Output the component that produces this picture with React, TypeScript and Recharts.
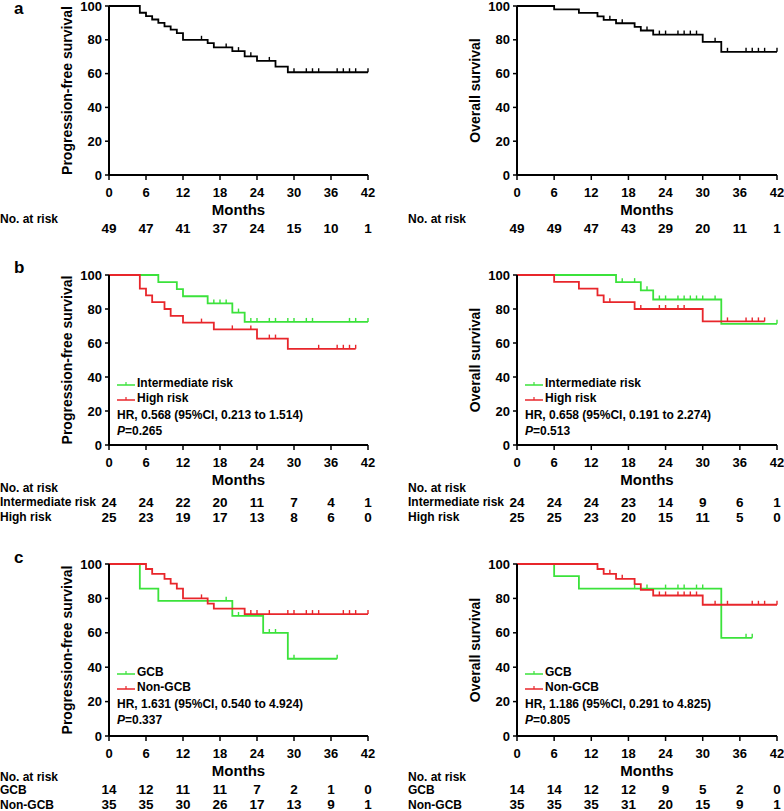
import React from 'react';
import { ComposedChart, Line, Scatter, XAxis, YAxis, Legend } from 'recharts';

const FONT = '"Liberation Sans", Arial, Helvetica, sans-serif';
const GREEN = '#3BE23B';
const RED = '#E8262B';
const BLACK = '#000000';

const monthTicks = [0, 6, 12, 18, 24, 30, 36, 42];
const pctTicks = [0, 20, 40, 60, 80, 100];

// a: whole cohort
const pfsAllTimes = [0, 5, 6, 7, 8, 9, 10, 11, 12, 16, 17, 20, 22, 24, 27, 29, 42];
const pfsAllSurv = [100, 96, 94, 92, 90, 88, 86, 84, 80, 78, 75.5, 73.3, 70.2, 67.5, 64.1, 60.8, 60.8];
const pfsAllCensor = [15, 19, 21, 23, 26, 30, 32, 33, 34, 37, 38, 39, 40, 42];
const pfsAllRisk = [49, 47, 41, 37, 24, 15, 10, 1];

const osAllTimes = [0, 6, 10, 13, 14, 16, 19, 20, 22, 30, 33, 42];
const osAllSurv = [100, 98, 95.9, 93.9, 91.8, 89.8, 87.6, 85.5, 83.1, 78.8, 72.9, 72.9];
const osAllCensor = [15, 17, 21, 23, 24, 26, 27, 28, 29, 32, 34, 37, 38, 39, 40, 42];
const osAllRisk = [49, 49, 47, 43, 29, 20, 11, 1];

// b: IPI risk groups
const pfsIntTimes = [0, 8, 11, 12, 16, 20, 22, 42];
const pfsIntSurv = [100, 95.8, 91.7, 87.5, 83.3, 77.9, 72.4, 72.4];
const pfsIntCensor = [17, 18, 19, 21, 23, 24, 26, 27, 29, 30, 32, 33, 39, 40, 42];
const pfsHighTimes = [0, 5, 6, 7, 9, 10, 12, 17, 24, 29, 40];
const pfsHighSurv = [100, 92, 88, 84, 80, 76, 72, 68, 62.6, 56.6, 56.6];
const pfsHighCensor = [15, 20, 23, 26, 27, 34, 37, 38, 39, 40];
const pfsIntRisk = [24, 24, 22, 20, 11, 7, 4, 1];
const pfsHighRisk = [25, 23, 19, 17, 13, 8, 6, 0];

const osIntTimes = [0, 16, 20, 22, 33, 42];
const osIntSurv = [100, 95.8, 91, 85.6, 71.3, 71.3];
const osIntCensor = [17, 19, 21, 23, 24, 26, 27, 28, 29, 30, 32, 42];
const osHighTimes = [0, 6, 10, 13, 14, 19, 30, 40];
const osHighSurv = [100, 96, 92, 88, 84, 80, 72.7, 72.7];
const osHighCensor = [15, 20, 23, 24, 26, 27, 34, 37, 38, 39, 40];
const osIntRisk = [24, 24, 24, 23, 14, 9, 6, 1];
const osHighRisk = [25, 25, 23, 20, 15, 11, 5, 0];

// c: cell of origin
const pfsGcbTimes = [0, 5, 8, 20, 25, 29, 37];
const pfsGcbSurv = [100, 85.7, 78.6, 69.8, 59.9, 44.9, 44.9];
const pfsGcbCensor = [19, 21, 26, 27, 30, 37];
const pfsNonTimes = [0, 6, 7, 9, 10, 11, 12, 16, 17, 22, 42];
const pfsNonSurv = [100, 97.1, 94.3, 91.4, 88.6, 85.7, 80, 77, 74, 70.9, 70.9];
const pfsNonCensor = [15, 23, 24, 26, 29, 30, 32, 33, 34, 38, 39, 40, 42];
const pfsGcbRisk = [14, 12, 11, 11, 7, 2, 1, 0];
const pfsNonRisk = [35, 35, 30, 26, 17, 13, 9, 1];

const osGcbTimes = [0, 6, 10, 33, 38];
const osGcbSurv = [100, 92.9, 85.7, 57.1, 57.1];
const osGcbCensor = [19, 21, 24, 26, 27, 29, 30, 37, 38];
const osNonTimes = [0, 13, 14, 16, 19, 20, 22, 30, 42];
const osNonSurv = [100, 97.1, 94.3, 91.4, 88.3, 85, 81.7, 76.3, 76.3];
const osNonCensor = [15, 17, 23, 24, 26, 27, 28, 29, 32, 34, 38, 39, 40, 42];
const osGcbRisk = [14, 14, 12, 12, 9, 5, 2, 0];
const osNonRisk = [35, 35, 35, 31, 20, 15, 9, 1];

type Series = { name: string; color: string; times: number[]; surv: number[]; censor: number[] };
type RiskRow = { label: string; values: number[]; dy: number };

const steps = (times: number[], surv: number[]) => times.map((t, i) => ({ t, s: surv[i] }));

// censored patients sit on the curve level at their time
const censorMarks = (censor: number[], times: number[], surv: number[]) =>
  censor.map((c) => {
    let k = 0;
    times.forEach((t, i) => {
      if (t <= c) k = i;
    });
    return { t: c, s: surv[k] };
  });

const txt = { fontFamily: FONT, fontWeight: 700, fill: BLACK };

interface PanelProps {
  left: number;
  top: number;
  height: number;
  marginTop: number;
  plotHeight: number;
  right: boolean;
  yLabel: string;
  series: Series[];
  risk: RiskRow[];
  atRiskDy: number;
  stats?: [string, string];
}

const KMPanel: React.FC<PanelProps> = ({ left, top, height, marginTop, plotHeight, right, yLabel, series, risk, atRiskDy, stats }) => {
  const width = 392;
  const yw = 60;
  const plotLeft = right ? 125 : 109;
  const margin = { top: marginTop, right: right ? 7 : 24, left: plotLeft - yw, bottom: 0 };
  const axisY = marginTop + plotHeight;
  const xAxisH = height - axisY;

  const renderTick = (p: any) => {
    const { x, payload } = p;
    const idx = monthTicks.indexOf(payload.value);
    return (
      <g>
        <text x={x} y={axisY + 17} textAnchor="middle" dominantBaseline="central" fontSize={13} style={txt}>
          {payload.value}
        </text>
        {risk.map((row) => (
          <text key={row.label + row.dy} x={x} y={axisY + row.dy} textAnchor="middle" dominantBaseline="central" fontSize={13.5} style={txt}>
            {row.values[idx]}
          </text>
        ))}
        {idx === 0 && (
          <g>
            <text x={x - 109} y={axisY + atRiskDy} dominantBaseline="central" fontSize={12} style={txt}>
              No. at risk
            </text>
            {risk.map((row) => (
              <text key={'l' + row.dy} x={x - 109} y={axisY + row.dy} dominantBaseline="central" fontSize={12} style={txt}>
                {row.label}
              </text>
            ))}
          </g>
        )}
      </g>
    );
  };

  const legendContent = () => (
    <div style={{ fontFamily: FONT, fontWeight: 700, fontSize: 12, color: BLACK, whiteSpace: 'nowrap' }}>
      {series.map((s) => (
        <div key={s.name} style={{ height: 15, lineHeight: '15px', display: 'flex', alignItems: 'center' }}>
          <svg width={18} height={10} style={{ marginRight: 2 }}>
            <line x1={0} x2={18} y1={6} y2={6} stroke={s.color} strokeWidth={1.5} />
            <line x1={9} x2={9} y1={6} y2={3} stroke={s.color} strokeWidth={1.2} />
          </svg>
          {s.name}
        </div>
      ))}
      {stats && (
        <>
          <div style={{ height: 18, lineHeight: '19px' }}>{stats[0]}</div>
          <div style={{ height: 14, lineHeight: '14px' }}>
            <i>P</i>
            {stats[1]}
          </div>
        </>
      )}
    </div>
  );

  return (
    <div style={{ position: 'absolute', left, top, width, height }}>
      <ComposedChart width={width} height={height} margin={margin}>
        <XAxis
          type="number"
          dataKey="t"
          domain={[0, 42]}
          ticks={monthTicks}
          interval={0}
          height={xAxisH}
          axisLine={{ stroke: BLACK, strokeWidth: 2 }}
          tickLine={{ stroke: BLACK, strokeWidth: 1.5 }}
          tickSize={5}
          tick={renderTick}
          label={{
            value: 'Months',
            content: (lp: any) => {
              const vb = lp.viewBox || {};
              return (
                <text x={vb.x + vb.width / 2} y={axisY + 34} textAnchor="middle" dominantBaseline="central" fontSize={15} style={txt}>
                  Months
                </text>
              );
            },
          }}
        />
        <YAxis
          type="number"
          domain={[0, 100]}
          ticks={pctTicks}
          interval={0}
          width={yw}
          axisLine={{ stroke: BLACK, strokeWidth: 2 }}
          tickLine={{ stroke: BLACK, strokeWidth: 1.5 }}
          tickSize={4}
          tickMargin={3}
          tick={{ ...txt, fontSize: 13 }}
          label={{
            value: yLabel,
            content: (lp: any) => {
              const vb = lp.viewBox || {};
              const cx = plotLeft - 42;
              const cy = vb.y + vb.height / 2;
              return (
                <text x={cx} y={cy} transform={`rotate(-90, ${cx}, ${cy})`} textAnchor="middle" dominantBaseline="central" fontSize={14} style={txt}>
                  {yLabel}
                </text>
              );
            },
          }}
        />
        {series.map((s) => (
          <Line
            key={s.name + 'line'}
            data={steps(s.times, s.surv)}
            dataKey="s"
            name={s.name}
            type="stepAfter"
            stroke={s.color}
            strokeWidth={1.8}
            dot={false}
            activeDot={false}
            isAnimationActive={false}
          />
        ))}
        {series.map((s) => (
          <Scatter
            key={s.name + 'cens'}
            data={censorMarks(s.censor, s.times, s.surv)}
            dataKey="s"
            isAnimationActive={false}
            legendType="none"
            shape={(p: any) => <line x1={p.cx} x2={p.cx} y1={p.cy} y2={p.cy - 4} stroke={s.color} strokeWidth={1.4} />}
          />
        ))}
        {stats && (
          <Legend
            layout="vertical"
            align="center"
            verticalAlign="middle"
            content={legendContent}
            wrapperStyle={{ left: plotLeft + 8, top: marginTop + 101, width: 260, right: 'auto', bottom: 'auto' }}
          />
        )}
      </ComposedChart>
    </div>
  );
};

const PanelTag: React.FC<{ label: string; top: number }> = ({ label, top }) => (
  <div style={{ position: 'absolute', left: 14, top, fontFamily: FONT, fontWeight: 700, fontSize: 17, lineHeight: '18px' }}>{label}</div>
);

export default function App() {
  return (
    <div style={{ position: 'absolute', left: 0, top: 0, width: 784, height: 811, background: '#fff', overflow: 'hidden' }}>
      <PanelTag label="a" top={0} />
      <PanelTag label="b" top={259} />
      <PanelTag label="c" top={549} />

      <KMPanel
        left={0}
        top={-10}
        height={270}
        marginTop={16}
        plotHeight={169}
        right={false}
        yLabel="Progression-free survival"
        series={[{ name: 'All', color: BLACK, times: pfsAllTimes, surv: pfsAllSurv, censor: pfsAllCensor }]}
        risk={[{ label: '', values: pfsAllRisk, dy: 53 }]}
        atRiskDy={44}
      />
      <KMPanel
        left={392}
        top={-10}
        height={270}
        marginTop={16}
        plotHeight={169}
        right
        yLabel="Overall survival"
        series={[{ name: 'All', color: BLACK, times: osAllTimes, surv: osAllSurv, censor: osAllCensor }]}
        risk={[{ label: '', values: osAllRisk, dy: 53 }]}
        atRiskDy={44}
      />

      <KMPanel
        left={0}
        top={260}
        height={280}
        marginTop={15}
        plotHeight={170}
        right={false}
        yLabel="Progression-free survival"
        series={[
          { name: 'Intermediate risk', color: GREEN, times: pfsIntTimes, surv: pfsIntSurv, censor: pfsIntCensor },
          { name: 'High risk', color: RED, times: pfsHighTimes, surv: pfsHighSurv, censor: pfsHighCensor },
        ]}
        risk={[
          { label: 'Intermediate risk', values: pfsIntRisk, dy: 57 },
          { label: 'High risk', values: pfsHighRisk, dy: 72 },
        ]}
        atRiskDy={43}
        stats={['HR, 0.568 (95%CI, 0.213 to 1.514)', '=0.265']}
      />
      <KMPanel
        left={392}
        top={260}
        height={280}
        marginTop={15}
        plotHeight={170}
        right
        yLabel="Overall survival"
        series={[
          { name: 'Intermediate risk', color: GREEN, times: osIntTimes, surv: osIntSurv, censor: osIntCensor },
          { name: 'High risk', color: RED, times: osHighTimes, surv: osHighSurv, censor: osHighCensor },
        ]}
        risk={[
          { label: 'Intermediate risk', values: osIntRisk, dy: 57 },
          { label: 'High risk', values: osHighRisk, dy: 72 },
        ]}
        atRiskDy={43}
        stats={['HR, 0.658 (95%CI, 0.191 to 2.274)', '=0.513']}
      />

      <KMPanel
        left={0}
        top={540}
        height={271}
        marginTop={24}
        plotHeight={172}
        right={false}
        yLabel="Progression-free survival"
        series={[
          { name: 'GCB', color: GREEN, times: pfsGcbTimes, surv: pfsGcbSurv, censor: pfsGcbCensor },
          { name: 'Non-GCB', color: RED, times: pfsNonTimes, surv: pfsNonSurv, censor: pfsNonCensor },
        ]}
        risk={[
          { label: 'GCB', values: pfsGcbRisk, dy: 53.5 },
          { label: 'Non-GCB', values: pfsNonRisk, dy: 68.5 },
        ]}
        atRiskDy={40.5}
        stats={['HR, 1.631 (95%CI, 0.540 to 4.924)', '=0.337']}
      />
      <KMPanel
        left={392}
        top={540}
        height={271}
        marginTop={24}
        plotHeight={172}
        right
        yLabel="Overall survival"
        series={[
          { name: 'GCB', color: GREEN, times: osGcbTimes, surv: osGcbSurv, censor: osGcbCensor },
          { name: 'Non-GCB', color: RED, times: osNonTimes, surv: osNonSurv, censor: osNonCensor },
        ]}
        risk={[
          { label: 'GCB', values: osGcbRisk, dy: 53.5 },
          { label: 'Non-GCB', values: osNonRisk, dy: 68.5 },
        ]}
        atRiskDy={40.5}
        stats={['HR, 1.186 (95%CI, 0.291 to 4.825)', '=0.805']}
      />
    </div>
  );
}
